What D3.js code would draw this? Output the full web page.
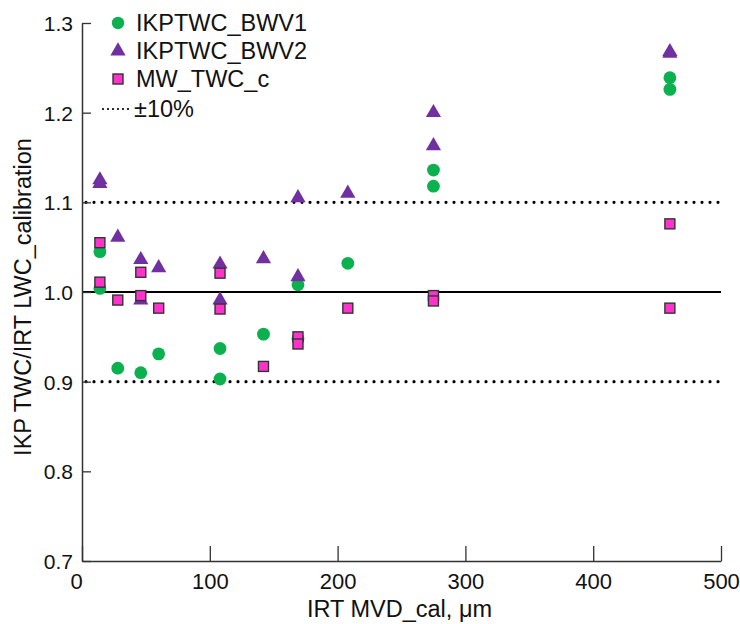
<!DOCTYPE html>
<html>
<head>
<meta charset="utf-8">
<script src="https://cdn.jsdelivr.net/npm/d3@7"></script>
<style>
  html, body { margin: 0; padding: 0; background: #fff; }
  svg text { font-family: "Liberation Sans", Arial, sans-serif; fill: #111; }
</style>
</head>
<body>
<svg id="chart" width="740" height="624"></svg>
<script>
// IRT MVD_cal (µm) and ratio values for each series
const bwv1X = [14, 14, 28, 46, 60, 108, 108, 142, 169, 169, 208, 275, 275, 460, 460];
const bwv1Y = [1.045, 1.004, 0.915, 0.910, 0.931, 0.937, 0.903, 0.953, 1.008, 0.948, 1.032, 1.136, 1.118, 1.239, 1.226];

const bwv2X = [14, 14, 28, 46, 46, 60, 108, 108, 142, 169, 169, 208, 275, 275, 460, 460];
const bwv2Y = [1.125, 1.121, 1.061, 1.036, 0.991, 1.027, 1.031, 0.991, 1.037, 1.105, 1.017, 1.110, 1.200, 1.163, 1.268, 1.266];

const mwX = [14, 14, 28, 46, 46, 60, 108, 108, 142, 169, 169, 208, 275, 275, 460, 460];
const mwY = [1.055, 1.011, 0.991, 1.022, 0.996, 0.982, 1.021, 0.981, 0.917, 0.950, 0.942, 0.982, 0.996, 0.990, 1.076, 0.982];

const xTicks = [0, 100, 200, 300, 400, 500];
const yTicks = [0.7, 0.8, 0.9, 1.0, 1.1, 1.2, 1.3];
const refLines = [0.9, 1.1];
const legendNames = ["IKPTWC_BWV1", "IKPTWC_BWV2", "MW_TWC_c", "±10%"];

const svg = d3.select("#chart");
const plotLeft = 82, plotRight = 721, plotTop = 23, plotBottom = 561;

const x = d3.scaleLinear().domain([0, 500]).range([plotLeft, plotRight]);
const y = d3.scaleLinear().domain([0.7, 1.3]).range([plotBottom, plotTop]);

const axisColor = "#333";

// ±10% dotted guides and the 1.0 reference line
svg.selectAll("line.ref").data(refLines).enter().append("line")
  .attr("class", "ref")
  .attr("x1", x(0) + 4).attr("x2", x(500))
  .attr("y1", d => y(d)).attr("y2", d => y(d))
  .attr("stroke", "#000").attr("stroke-width", 3.2)
  .attr("stroke-linecap", "round").attr("stroke-dasharray", "0 8");

svg.append("line")
  .attr("x1", x(0)).attr("x2", x(500))
  .attr("y1", y(1.0)).attr("y2", y(1.0))
  .attr("stroke", "#000").attr("stroke-width", 2);

// Axes (ticks pointing inward)
const xAxis = svg.append("g").attr("transform", `translate(0,${plotBottom})`)
  .call(d3.axisBottom(x).tickValues(xTicks).tickSizeInner(-15).tickSizeOuter(0).tickPadding(24).tickFormat(d3.format("d")));
const yAxis = svg.append("g").attr("transform", `translate(${plotLeft},0)`)
  .call(d3.axisLeft(y).tickValues(yTicks).tickSizeInner(-9).tickSizeOuter(0).tickPadding(9).tickFormat(d3.format(".1f")));

[xAxis, yAxis].forEach(g => {
  g.select(".domain").attr("stroke", axisColor).attr("stroke-width", 1.5);
  g.selectAll(".tick line").attr("stroke", axisColor).attr("stroke-width", 1.3);
  g.selectAll(".tick text").attr("fill", "#111")
    .attr("font-family", "Liberation Sans, Arial, sans-serif");
});
xAxis.selectAll(".tick text").attr("font-size", 22).attr("dy", "0.2em");
yAxis.selectAll(".tick text").attr("font-size", 21).attr("dy", "0.35em");
// the "0" tick label sits a bit left of the axis origin
xAxis.selectAll(".tick text").filter(d => d === 0).attr("dx", -6);

// Axis titles
svg.append("text")
  .attr("x", x(250) - 2).attr("y", 617)
  .attr("text-anchor", "middle").attr("font-size", 23.5)
  .text("IRT MVD_cal, μm");

svg.append("text")
  .attr("transform", `translate(31,297) rotate(-90)`)
  .attr("text-anchor", "middle").attr("font-size", 23.5)
  .text("IKP TWC/IRT LWC_calibration");

// Series markers
const green = "#0bb04f", purple = "#7030a0", pink = "#ff33cc";

svg.append("g").selectAll("circle").data(d3.zip(bwv1X, bwv1Y)).enter().append("circle")
  .attr("cx", d => x(d[0])).attr("cy", d => y(d[1])).attr("r", 6.4)
  .attr("fill", green);

const tri = d3.symbol().type(d3.symbolTriangle).size(100);
svg.append("g").selectAll("path").data(d3.zip(bwv2X, bwv2Y)).enter().append("path")
  .attr("d", tri)
  .attr("transform", d => `translate(${x(d[0])},${y(d[1])})`)
  .attr("fill", purple);

svg.append("g").selectAll("rect").data(d3.zip(mwX, mwY)).enter().append("rect")
  .attr("x", d => x(d[0]) - 5).attr("y", d => y(d[1]) - 5)
  .attr("width", 10).attr("height", 10)
  .attr("fill", pink).attr("stroke", "#333").attr("stroke-width", 1.4);

// Legend
const lg = svg.append("g");
const rowY = [23, 51, 79, 109];
const textX = 136, symX = 118;
lg.append("circle").attr("cx", symX).attr("cy", rowY[0]).attr("r", 6.2).attr("fill", green);
lg.append("path").attr("d", tri).attr("transform", `translate(${symX},${rowY[1]})`).attr("fill", purple);
lg.append("rect").attr("x", symX - 5).attr("y", rowY[2] - 5).attr("width", 10).attr("height", 10)
  .attr("fill", pink).attr("stroke", "#333").attr("stroke-width", 1.4);
lg.append("line").attr("x1", 103).attr("x2", 133).attr("y1", rowY[3]).attr("y2", rowY[3])
  .attr("stroke", "#000").attr("stroke-width", 2.2).attr("stroke-linecap", "round")
  .attr("stroke-dasharray", "0 5");
lg.selectAll("text").data(legendNames).enter().append("text")
  .attr("x", (d, i) => i === 3 ? 134 : textX)
  .attr("y", (d, i) => rowY[i])
  .attr("dy", "0.36em").attr("font-size", 23.5)
  .text(d => d);
</script>
</body>
</html>
